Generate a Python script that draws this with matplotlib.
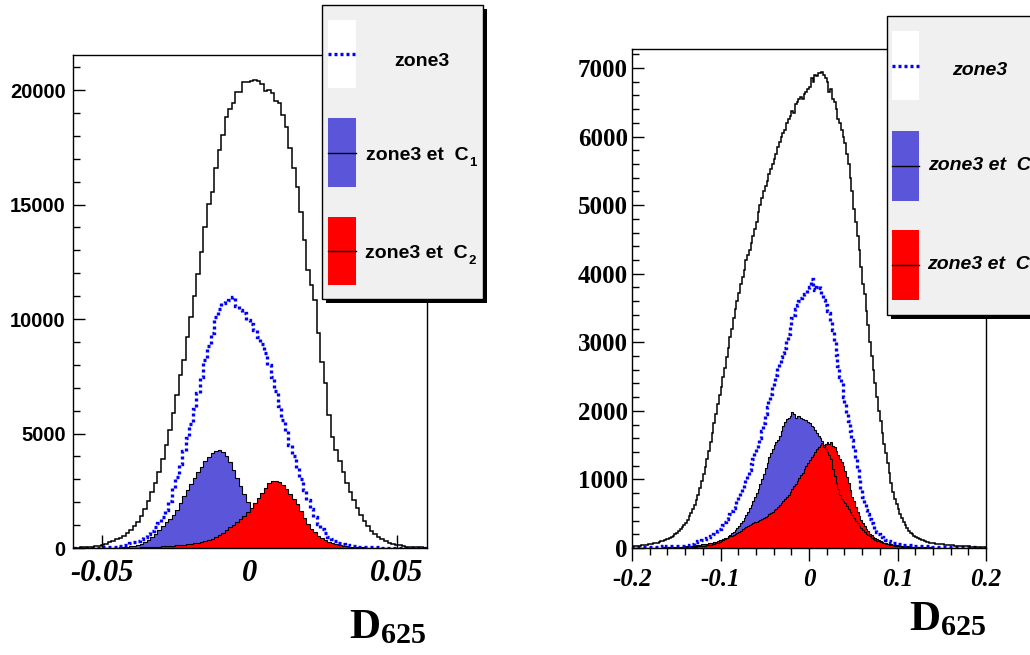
import matplotlib
matplotlib.use("Agg")
import matplotlib.pyplot as plt
import numpy as np
from matplotlib.patches import Rectangle
from matplotlib.lines import Line2D
from matplotlib.ticker import MultipleLocator
from matplotlib.font_manager import FontProperties

plt.rcParams['mathtext.fontset'] = 'custom'
plt.rcParams['mathtext.bf'] = 'Liberation Serif:bold'
plt.rcParams['mathtext.rm'] = 'Liberation Serif'

# ---------------- data: left panel, 100 bins on [-0.06, 0.06] ----------------
L_RANGE = (-0.06, 0.06)
L_TOTAL = [15, 20, 28, 35, 45, 55, 70, 90, 120, 180,
           250, 320, 380, 450, 540, 650, 780, 950, 1150, 1400,
           1700, 2050, 2450, 2850, 3300, 3900, 4500, 5150, 5880, 6680,
           7550, 8210, 9230, 10070, 11000, 11970, 12930, 14030, 15020, 15530,
           16580, 17380, 18030, 18810, 19150, 19420, 19900, 19900, 20360, 20360,
           20400, 20450, 20400, 20250, 19950, 20000, 19850, 19500, 19420, 18900,
           18400, 17450, 16600, 15780, 14690, 13450, 12140, 11500, 10830, 9390,
           8140, 7200, 5810, 4860, 4300, 3800, 3300, 2850, 2450, 2100,
           1750, 1450, 1170, 950, 760, 610, 480, 380, 300, 230,
           180, 140, 110, 85, 65, 50, 40, 30, 25, 20]
L_ZONE3 = [0, 0, 0, 5, 5, 10, 10, 15, 20, 25,
           35, 45, 60, 80, 110, 150, 200, 250, 320, 400,
           500, 620, 760, 920, 1100, 1350, 1650, 2050, 2600, 3100,
           3650, 4250, 4800, 5400, 6050, 6750, 7450, 8200, 8800, 9400,
           10100, 10450, 10700, 10800, 10850, 10950, 10550, 10400, 10250, 9950,
           9800, 9500, 9200, 8900, 8500, 8000, 7450, 6850, 6200, 5600,
           5100, 4500, 4000, 3500, 3000, 2550, 2100, 1700, 1350, 1050,
           820, 650, 500, 380, 290, 220, 170, 130, 100, 80,
           65, 55, 45, 40, 35, 30, 25, 20, 18, 15,
           12, 10, 10, 8, 6, 5, 4, 3, 3, 2]
L_C1 = [0, 0, 0, 0, 0, 2, 3, 4, 5, 7,
        10, 14, 20, 28, 40, 55, 75, 100, 140, 190,
        260, 350, 460, 600, 780, 950, 1120, 1280, 1420, 1650,
        1950, 2250, 2550, 2800, 3050, 3300, 3550, 3800, 3980, 4150,
        4230, 4280, 4200, 4000, 3750, 3400, 3050, 2700, 2350, 2000,
        1650, 1300, 1000, 780, 600, 460, 350, 270, 200, 150,
        115, 85, 65, 50, 38, 29, 22, 17, 13, 10,
        8, 6, 5, 4, 3, 2, 2, 1, 1, 1,
        0, 0, 0, 0, 0, 0, 0, 0, 0, 0,
        0, 0, 0, 0, 0, 0, 0, 0, 0, 0]
L_C2 = [0, 0, 0, 0, 0, 0, 0, 1, 1, 2,
        2, 3, 4, 5, 6, 8, 10, 13, 17, 22,
        28, 35, 42, 50, 60, 70, 80, 90, 100, 110,
        125, 140, 160, 180, 200, 230, 260, 300, 350, 410,
        480, 560, 650, 780, 900, 1020, 1130, 1260, 1400, 1580,
        1760, 1960, 2180, 2400, 2620, 2820, 2920, 2940, 2880, 2760,
        2580, 2380, 2150, 1900, 1620, 1300, 1050, 850, 680, 540,
        430, 340, 270, 220, 170, 135, 105, 82, 64, 50,
        40, 32, 25, 20, 16, 12, 9, 7, 5, 4,
        3, 3, 2, 2, 1, 1, 1, 0, 0, 0]

# ---------------- data: right panel, 200 bins on [-0.2, 0.2] ----------------
R_RANGE = (-0.2, 0.2)
R_TOTAL = [25, 30, 30, 35, 35, 40, 40, 45, 50, 55,
           60, 65, 70, 75, 80, 90, 95, 105, 115, 125,
           135, 150, 165, 180, 200, 220, 245, 270, 300, 330,
           370, 410, 460, 510, 570, 630, 700, 780, 870, 970,
           1080, 1180, 1300, 1420, 1550, 1680, 1820, 1960, 2100, 2230,
           2350, 2500, 2620, 2780, 2920, 3080, 3200, 3350, 3480, 3600,
           3720, 3850, 3950, 4050, 4200, 4280, 4350, 4450, 4550, 4650,
           4750, 4900, 5000, 5100, 5200, 5280, 5350, 5450, 5520, 5600,
           5680, 5750, 5850, 5920, 6000, 6050, 6100, 6200, 6250, 6300,
           6380, 6350, 6480, 6500, 6550, 6580, 6550, 6620, 6650, 6700,
           6720, 6850, 6800, 6900, 6880, 6930, 6920, 6940, 6900, 6850,
           6800, 6650, 6700, 6550, 6500, 6400, 6250, 6200, 6100, 6000,
           5900, 5750, 5600, 5400, 5200, 4950, 4750, 4550, 4350, 4100,
           3850, 3700, 3450, 3250, 3000, 2800, 2600, 2400, 2200, 2000,
           1850, 1680, 1520, 1380, 1240, 1100, 950, 820, 720, 640,
           570, 500, 440, 380, 330, 290, 255, 225, 200, 180,
           160, 145, 130, 120, 110, 100, 92, 85, 80, 75,
           70, 65, 60, 58, 55, 52, 50, 48, 45, 42,
           40, 38, 36, 34, 32, 30, 28, 26, 25, 24,
           22, 20, 19, 18, 17, 16, 15, 14, 13, 12]
R_ZONE3 = [10, 12, 10, 12, 14, 12, 15, 14, 16, 15,
           16, 18, 17, 18, 20, 19, 20, 22, 21, 22,
           22, 24, 23, 25, 26, 25, 27, 28, 28, 30,
           30, 35, 40, 50, 60, 70, 85, 95, 105, 115,
           125, 135, 145, 160, 175, 190, 205, 225, 250, 280,
           310, 340, 380, 420, 460, 500, 540, 580, 620, 680,
           740, 800, 860, 920, 990, 1060, 1140, 1220, 1300, 1380,
           1440, 1520, 1600, 1700, 1820, 1950, 2050, 2150, 2250, 2350,
           2420, 2520, 2620, 2700, 2780, 2850, 2920, 3020, 3120, 3220,
           3350, 3400, 3480, 3550, 3600, 3640, 3680, 3700, 3720, 3760,
           3800, 3920, 3780, 3760, 3800, 3820, 3790, 3700, 3620, 3550,
           3450, 3420, 3300, 3180, 3000, 2820, 2650, 2500, 2400, 2200,
           2100, 1950, 1850, 1700, 1580, 1450, 1300, 1150, 1000, 860,
           740, 640, 560, 490, 420, 370, 320, 270, 230, 200,
           175, 155, 135, 120, 105, 95, 85, 75, 70, 65,
           60, 55, 50, 48, 45, 42, 40, 38, 35, 33,
           30, 30, 28, 27, 26, 25, 24, 23, 22, 21,
           20, 20, 19, 18, 18, 17, 16, 16, 15, 14,
           14, 13, 13, 12, 12, 11, 11, 10, 10, 10,
           9, 9, 9, 8, 8, 8, 7, 7, 7, 6]
R_C1 = [0, 0, 1, 0, 1, 1, 0, 1, 1, 2,
        1, 2, 2, 2, 3, 2, 3, 3, 4, 4,
        4, 5, 5, 6, 6, 7, 7, 8, 9, 10,
        11, 12, 13, 15, 17, 19, 21, 23, 26, 29,
        32, 36, 40, 45, 50, 56, 62, 70, 80, 90,
        100, 115, 130, 150, 170, 190, 215, 240, 265, 290,
        320, 360, 400, 440, 480, 530, 580, 630, 680, 740,
        800, 860, 930, 1000, 1080, 1160, 1240, 1320, 1380, 1440,
        1500, 1540, 1580, 1640, 1700, 1780, 1840, 1880, 1900, 1920,
        1980, 1960, 1900, 1930, 1920, 1900, 1880, 1870, 1860, 1840,
        1820, 1780, 1760, 1720, 1680, 1640, 1600, 1560, 1500, 1450,
        1400, 1350, 1300, 1150, 1050, 950, 860, 780, 720, 680,
        650, 610, 570, 530, 480, 440, 400, 360, 320, 290,
        260, 235, 210, 190, 170, 150, 135, 120, 105, 95,
        85, 76, 68, 60, 53, 47, 42, 37, 33, 30,
        27, 24, 21, 19, 17, 15, 13, 12, 11, 10,
        9, 8, 8, 7, 6, 6, 5, 5, 4, 4,
        4, 3, 3, 3, 2, 2, 2, 2, 2, 1,
        1, 1, 1, 1, 1, 1, 1, 1, 0, 0,
        0, 0, 0, 0, 0, 0, 0, 0, 0, 0]
R_C2 = [0, 1, 1, 1, 2, 2, 2, 3, 3, 3,
        4, 4, 5, 5, 6, 6, 7, 8, 8, 9,
        10, 11, 12, 13, 14, 15, 17, 18, 20, 22,
        24, 26, 28, 30, 33, 36, 40, 44, 48, 52,
        56, 60, 65, 70, 75, 80, 85, 90, 100, 110,
        120, 130, 140, 150, 160, 170, 180, 195, 210, 225,
        240, 255, 270, 285, 300, 320, 335, 350, 365, 380,
        380, 395, 410, 425, 440, 455, 470, 490, 510, 530,
        550, 575, 600, 630, 660, 690, 720, 750, 780, 820,
        860, 900, 940, 980, 1020, 1060, 1100, 1150, 1200, 1240,
        1280, 1320, 1360, 1400, 1440, 1470, 1500, 1530, 1470, 1510,
        1540, 1520, 1550, 1490, 1470, 1420, 1350, 1300, 1250, 1200,
        1120, 1040, 950, 850, 750, 680, 600, 520, 460, 410,
        360, 320, 280, 245, 210, 185, 165, 150, 130, 115,
        100, 90, 80, 72, 65, 58, 52, 48, 44, 40,
        36, 33, 30, 28, 26, 24, 22, 20, 18, 17,
        16, 15, 14, 13, 12, 11, 10, 9, 8, 8,
        7, 7, 6, 6, 5, 5, 4, 4, 4, 3,
        3, 3, 3, 2, 2, 2, 2, 2, 1, 1,
        1, 1, 1, 1, 1, 0, 0, 0, 0, 0]

L_XTICKS = [-0.05, 0, 0.05]
L_XLABELS = ['-0.05', '0', '0.05']
L_YTICKS = [0, 5000, 10000, 15000, 20000]
R_XTICKS = [-0.2, -0.1, 0, 0.1, 0.2]
R_XLABELS = ['-0.2', '-0.1', '0', '0.1', '0.2']
R_YTICKS = [0, 1000, 2000, 3000, 4000, 5000, 6000, 7000]
LEG_LABELS = ['zone3', 'zone3 et  C', 'zone3 et  C']
LEG_SUBS = ['', '1', '2']

for arr, n in [(L_TOTAL, 100), (L_ZONE3, 100), (L_C1, 100), (L_C2, 100),
               (R_TOTAL, 200), (R_ZONE3, 200), (R_C1, 200), (R_C2, 200)]:
    assert len(arr) == n, len(arr)

BLUE = '#5b55d9'
DOTS = (0, (0.9, 0.9))
W, H = 1030, 655
fig = plt.figure(figsize=(W / 100, H / 100), dpi=100)


def fx(px):
    return px / W


def fy(py):
    return 1 - py / H


def box(x0, y0, x1, y1):
    return (fx(x0), fy(y1)), (x1 - x0) / W, (y1 - y0) / H


ax1 = fig.add_axes([fx(72.5), fy(548), 354 / W, 493 / H])
ax2 = fig.add_axes([fx(632), fy(548), 354 / W, 499 / H])


def draw_hists(ax, rng, total, zone, c1, c2, c1_line_top):
    edges = np.linspace(rng[0], rng[1], len(total) + 1)
    ax.stairs(c1, edges, fill=True, color=BLUE, lw=0, zorder=2)
    if not c1_line_top:
        ax.stairs(c1, edges, color='k', lw=0.8, zorder=2.05)
    ax.stairs(c2, edges, fill=True, color='red', lw=0, zorder=2.1)
    ax.stairs(c2, edges, color='k', lw=0.8, zorder=2.15)
    if c1_line_top:
        ax.stairs(c1, edges, color='k', lw=0.8, zorder=2.2)
    ax.stairs(zone, edges, color='blue', lw=2.4, ls=DOTS, zorder=2.3)
    ax.stairs(total, edges, color='k', lw=1.1, zorder=2.4)


draw_hists(ax1, L_RANGE, L_TOTAL, L_ZONE3, L_C1, L_C2, False)
draw_hists(ax2, R_RANGE, R_TOTAL, R_ZONE3, R_C1, R_C2, True)

serif_bi = lambda s: FontProperties(family='Liberation Serif', weight='bold', style='italic', size=s)
serif_b = lambda s: FontProperties(family='Liberation Serif', weight='bold', size=s)
sans_b = FontProperties(family='Liberation Sans', weight='bold', size=14.5)

# left panel axes
ax1.set_xlim(*L_RANGE)
ax1.set_ylim(0, 21530)
ax1.set_xticks(L_XTICKS)
ax1.set_xticklabels(L_XLABELS, fontproperties=serif_bi(22))
ax1.set_yticks(L_YTICKS)
ax1.set_yticklabels([str(v) for v in L_YTICKS], fontproperties=sans_b)
ax1.yaxis.set_minor_locator(MultipleLocator(1000))
ax1.tick_params(axis='x', which='both', direction='in', length=9.4, width=1, pad=8)
ax1.tick_params(axis='y', which='major', direction='in', length=8.6, width=1, pad=5)
ax1.tick_params(axis='y', which='minor', direction='in', length=5, width=1)
ax1.xaxis.set_zorder(1.5)

# right panel axes
ax2.set_xlim(*R_RANGE)
ax2.set_ylim(0, 7277)
ax2.set_xticks(R_XTICKS)
ax2.set_xticklabels(R_XLABELS, fontproperties=serif_bi(18))
ax2.xaxis.set_minor_locator(MultipleLocator(0.02))
ax2.set_yticks(R_YTICKS)
ax2.set_yticklabels([str(v) for v in R_YTICKS], fontproperties=serif_b(18))
ax2.yaxis.set_minor_locator(MultipleLocator(200))
ax2.tick_params(axis='x', which='major', direction='out', length=9.4, width=1, pad=5)
ax2.tick_params(axis='x', which='minor', direction='out', length=5, width=1)
ax2.tick_params(axis='y', which='major', direction='in', length=8.6, width=1, pad=3)
ax2.tick_params(axis='y', which='minor', direction='in', length=5, width=1)

for ax in (ax1, ax2):
    for sp in ax.spines.values():
        sp.set_linewidth(1.0)
        sp.set_zorder(3)

# axis titles
fig.text(fx(426.5), fy(638), r'$\mathbf{D_{625}}$', ha='right', va='baseline', fontsize=31)
fig.text(fx(986), fy(630), r'$\mathbf{D_{625}}$', ha='right', va='baseline', fontsize=31)

# legends
renderer = fig.canvas.get_renderer()


def legend(x0, y0, x1, y1, sw_x, rows, text_pos, italic):
    (bx, by), bw, bh = box(x0 + 4, y0 + 4, x1 + 4, y1 + 4)
    fig.patches.append(Rectangle((bx, by), bw, bh, transform=fig.transFigure,
                                 facecolor='black', edgecolor='none', zorder=5))
    (bx, by), bw, bh = box(x0, y0, x1, y1)
    fig.patches.append(Rectangle((bx, by), bw, bh, transform=fig.transFigure,
                                 facecolor='#f0f0f0', edgecolor='black', lw=1, zorder=5.1))
    fills = ['white', BLUE, 'red']
    lstyle = [dict(color='blue', lw=2.4, ls=DOTS),
              dict(color='black', lw=1.0), dict(color='black', lw=1.0)]
    style = 'italic' if italic else 'normal'
    for (ry0, ry1), fc, ls, lab, sub, (tx, ty, ha) in zip(rows, fills, lstyle, LEG_LABELS, LEG_SUBS, text_pos):
        (bx, by), bw, bh = box(sw_x[0], ry0, sw_x[1], ry1)
        fig.patches.append(Rectangle((bx, by), bw, bh, transform=fig.transFigure,
                                     facecolor=fc, edgecolor='none', zorder=5.2))
        ym = fy((ry0 + ry1) / 2)
        fig.lines.append(Line2D([fx(sw_x[0]), fx(sw_x[1])], [ym, ym],
                                transform=fig.transFigure, zorder=5.3, **ls))
        t = fig.text(fx(tx), fy(ty), lab, ha=ha, va='baseline', fontsize=14,
                     family='Liberation Sans', weight='bold', style=style, zorder=6)
        if sub:
            bb = t.get_window_extent(renderer)
            fig.text((bb.x1 + 1) / W, fy(ty + 6), sub, ha='left', va='baseline', fontsize=9.5,
                     family='Liberation Sans', weight='bold', style=style, zorder=6)


legend(322, 5, 483, 299, (328, 356),
       [(20, 88), (118, 187), (217, 285)],
       [(422, 66, 'center'), (366, 160, 'left'), (365, 258, 'left')], False)
legend(887, 16, 1045, 315, (892, 919),
       [(31, 100), (131, 201), (230, 300)],
       [(980, 75, 'center'), (928, 170, 'left'), (927, 269, 'left')], True)

fig.savefig('out.png', dpi=100, facecolor='white')
